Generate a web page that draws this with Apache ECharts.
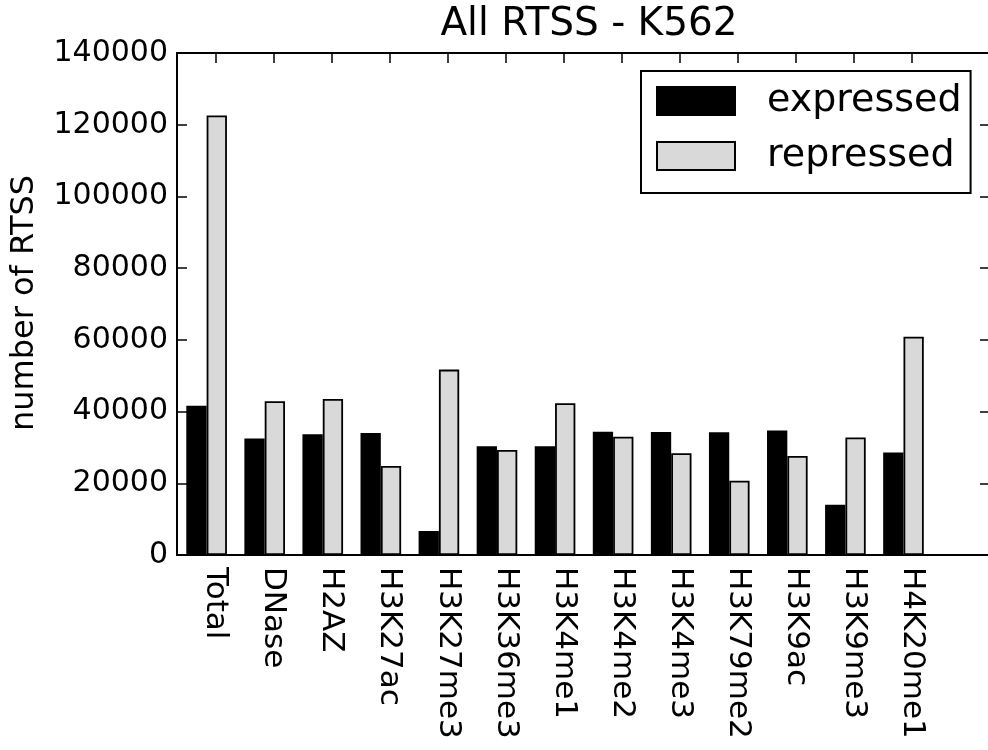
<!DOCTYPE html>
<html><head><meta charset="utf-8">
<script src="https://cdn.jsdelivr.net/npm/echarts@6/dist/echarts.min.js"></script>
<style>html,body{margin:0;padding:0;background:#fff}#c{width:988px;height:750px}</style>
</head><body><div id="c"></div>
<script>
const categories = ['Total','DNase','H2AZ','H3K27ac','H3K27me3','H3K36me3','H3K4me1','H3K4me2','H3K4me3','H3K79me2','H3K9ac','H3K9me3','H4K20me1'];
const expressed = [41600, 32500, 33700, 34000, 6700, 30300, 30300, 34400, 34300, 34200, 34700, 14000, 28600];
const repressed = [122600, 42900, 43500, 24800, 51700, 29300, 42300, 33000, 28400, 20700, 27600, 32800, 60900];
const seriesNames = ['expressed', 'repressed'];
const yMin = 0, yMax = 140000, yStep = 20000;

const FONT = 'DejaVu Sans';
const barW = 0.35;        // bar width in category units
const tickOff = 0.5;      // tick offset from group start
const xMin = -0.16, xMax = 13.84;
const tickPos = categories.map((c, i) => i + tickOff);

const chart = echarts.init(document.getElementById('c'), null, {renderer: 'canvas'});
const axisLine = {show: true, onZero: false, lineStyle: {color: '#000', width: 2}};
const axisTickBase = {show: true, inside: true, length: 10, lineStyle: {color: '#000', width: 1.5}};

chart.setOption({
  animation: false,
  backgroundColor: '#fff',
  textStyle: {fontFamily: FONT},
  title: {
    text: 'All RTSS - K562', left: 584, top: 0, textAlign: 'center',
    textStyle: {fontFamily: FONT, fontSize: 39, fontWeight: 'normal', color: '#000'}
  },
  grid: {left: 177, top: 53, bottom: 195, right: -2, containLabel: false, outerBoundsMode: 'none'},
  legend: {
    data: seriesNames, orient: 'vertical', left: 641, top: 71,
    itemWidth: 78, itemHeight: 28, itemGap: 17,
    borderColor: '#000', borderWidth: 2, borderRadius: 0,
    padding: [11, 9, 18, 15], backgroundColor: '#fff',
    icon: 'rect',
    textStyle: {fontFamily: FONT, fontSize: 38, color: '#000', lineHeight: 38, padding: [0, 0, 0, 27]}
  },
  graphic: [{
    type: 'text', x: 25, y: 303, rotation: Math.PI / 2,
    style: {text: 'number of RTSS', fontFamily: FONT, fontSize: 32, fill: '#000', align: 'center', verticalAlign: 'middle'}
  }],
  xAxis: [{
    type: 'value', min: xMin, max: xMax, position: 'bottom',
    axisLine: axisLine,
    axisTick: Object.assign({}, axisTickBase, {customValues: tickPos}),
    axisLabel: {
      show: true, customValues: tickPos, rotate: -90, margin: 12,
      fontFamily: FONT, fontSize: 31, color: '#000',
      formatter: v => categories[Math.round(v - tickOff)] || ''
    },
    splitLine: {show: false}
  }, {
    type: 'value', min: xMin, max: xMax, position: 'top',
    axisLine: axisLine,
    axisTick: Object.assign({}, axisTickBase, {customValues: tickPos}),
    axisLabel: {show: false},
    splitLine: {show: false}
  }],
  yAxis: [{
    type: 'value', min: yMin, max: yMax, interval: yStep, position: 'left',
    axisLine: axisLine, axisTick: axisTickBase,
    axisLabel: {show: true, margin: 9, fontFamily: FONT, fontSize: 30, color: '#000', formatter: v => String(v)},
    splitLine: {show: false}
  }, {
    type: 'value', min: yMin, max: yMax, interval: yStep, position: 'right',
    axisLine: axisLine, axisTick: axisTickBase,
    axisLabel: {show: false}, splitLine: {show: false}
  }],
  series: [{
    name: seriesNames[0], type: 'bar', xAxisIndex: 0, yAxisIndex: 0,
    barWidth: 20.3, barGap: '-100%',
    itemStyle: {color: '#000', borderColor: '#000', borderWidth: 1.8},
    data: expressed.map((v, i) => [i + barW / 2, v])
  }, {
    name: seriesNames[1], type: 'bar', xAxisIndex: 0, yAxisIndex: 0,
    barWidth: 20.3, barGap: '-100%',
    itemStyle: {color: '#d9d9d9', borderColor: '#000', borderWidth: 1.8},
    data: repressed.map((v, i) => [i + barW * 1.5, v])
  }]
});
</script></body></html>
